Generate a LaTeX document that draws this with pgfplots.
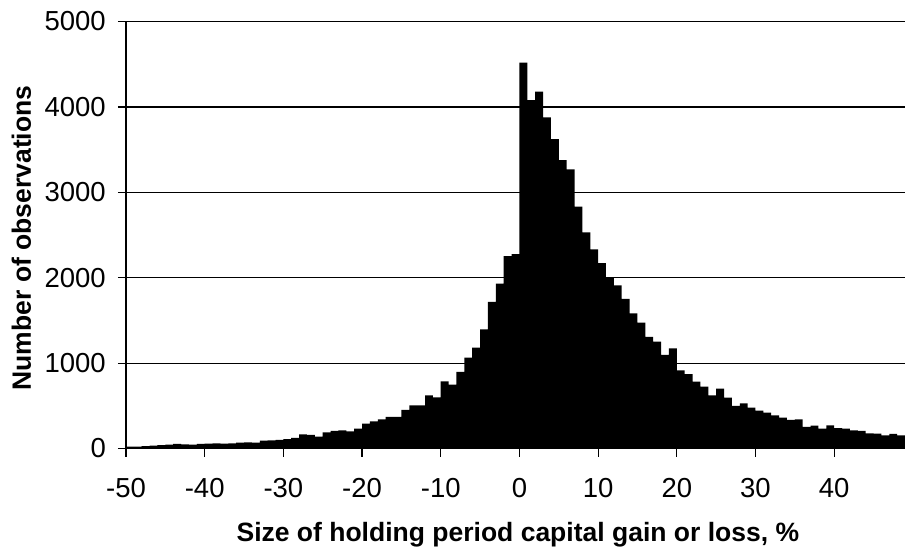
\documentclass[border=0pt]{standalone}
\usepackage{pgfplots}
\pgfplotsset{compat=1.18}
\usepackage{fontspec}
\setmainfont{Liberation Sans}
\begin{document}
\begin{tikzpicture}
\path[use as bounding box] (-126pt,-98.5pt) rectangle (779pt,448.5pt);
\begin{axis}[
  width=779pt, height=427pt, scale only axis,
  xmin=-50, xmax=49, ymin=0, ymax=5000,
  axis x line*=bottom, axis y line*=left,
  axis line style={black, line width=1.5pt},
  xtick={-50,-40,...,40},
  ytick={0,1000,...,5000},
  tick align=outside,
  major tick length=8pt,
  tick style={black, line width=1.2pt},
  ymajorgrids,
  grid style={black, line width=1.2pt},
  /pgf/number format/assume math mode=true,
  /pgf/number format/1000 sep={},
  tick label style={font=\fontsize{27.5}{32}\selectfont},
  xticklabel style={anchor=north, inner sep=0pt},
  yticklabel style={anchor=east, inner sep=0pt},
  xticklabel shift=22pt,
  yticklabel shift=12pt,
  label style={font=\bfseries\fontsize{26.5}{31}\selectfont},
  xlabel={Size of holding period capital gain or loss, \%},
  ylabel={Number of observations},
  xlabel style={at={(axis description cs:0.503,0)}, anchor=base, yshift=-92.5pt, inner sep=0pt},
  ylabel style={at={(axis description cs:-0.122,0.493)}, anchor=base, rotate=0, inner sep=0pt},
]
\addplot[ybar interval, fill=black, draw=none] coordinates {
(-50,21) (-49,21) (-48,29) (-47,33) (-46,41) (-45,45) (-44,53) (-43,49) (-42,45) (-41,53)
(-40,56) (-39,60) (-38,56) (-37,60) (-36,68) (-35,72) (-34,68) (-33,91) (-32,96) (-31,100)
(-30,111) (-29,123) (-28,166) (-27,160) (-26,139) (-25,189) (-24,205) (-23,213) (-22,201) (-21,232)
(-20,291) (-19,318) (-18,342) (-17,369) (-16,369) (-15,451) (-14,506) (-13,506) (-12,623) (-11,600)
(-10,787) (-9,747) (-8,896) (-7,1063) (-6,1180) (-5,1395) (-4,1717) (-3,1932) (-2,2254) (-1,2277)
(0,4518) (1,4080) (2,4178) (3,3878) (4,3624) (5,3378) (6,3269) (7,2831) (8,2530) (9,2332)
(10,2172) (11,1997) (12,1911) (13,1751) (14,1583) (15,1473) (16,1306) (17,1251) (18,1095) (19,1173)
(20,915) (21,872) (22,782) (23,724) (24,623) (25,700) (26,595) (27,498) (28,529) (29,480)
(30,445) (31,419) (32,389) (33,361) (34,334) (35,342) (36,252) (37,267) (38,232) (39,272)
(40,240) (41,232) (42,213) (43,205) (44,178) (45,173) (46,155) (47,170) (48,155) (49,155)
};
\end{axis}
\end{tikzpicture}
\end{document}
